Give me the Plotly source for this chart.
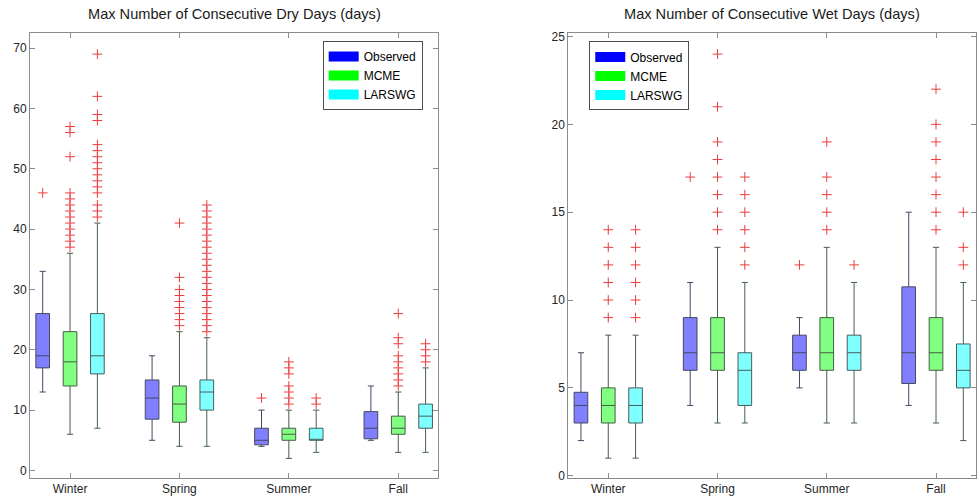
import plotly.graph_objects as go

seasons = ["Winter", "Spring", "Summer", "Fall"]
series_names = ["Observed", "MCME", "LARSWG"]

# ---------------- Dry days (left panel) ----------------
dry_q1 = {
    "Observed": [17, 8.5, 4.25, 5.25],
    "MCME": [14, 8, 5, 6],
    "LARSWG": [16, 10, 5, 7],
}
dry_median = {
    "Observed": [19, 12, 5, 7],
    "MCME": [18, 11, 6, 7],
    "LARSWG": [19, 13, 5, 9],
}
dry_q3 = {
    "Observed": [26, 15, 7, 9.75],
    "MCME": [23, 14, 7, 9],
    "LARSWG": [26, 15, 7, 11],
}
dry_low = {
    "Observed": [13, 5, 4, 5],
    "MCME": [6, 4, 2, 3],
    "LARSWG": [7, 4, 3, 3],
}
dry_high = {
    "Observed": [33, 19, 10, 14],
    "MCME": [36, 23, 10, 13],
    "LARSWG": [41, 22, 10, 17],
}
dry_outliers = {
    "Observed": [[46], [], [12], []],
    "MCME": [
        [37, 38, 39, 40, 41, 42, 43, 44, 45, 46, 52, 56, 57],
        [24, 25, 26, 27, 28, 29, 30, 32, 41],
        [11, 12, 13, 14, 16, 17, 18],
        [14, 15, 16, 17, 18, 19, 21, 22, 26],
    ],
    "LARSWG": [
        [42, 43, 44, 46, 47, 48, 49, 50, 51, 52, 53, 54, 58, 59, 62, 69],
        [23, 24, 25, 26, 27, 28, 29, 30, 31, 32, 33, 34, 35, 36, 37, 38,
         39, 40, 41, 42, 43, 44],
        [11, 12],
        [18, 19, 20, 21],
    ],
}

# ---------------- Wet days (right panel) ----------------
wet_q1 = {
    "Observed": [3, 6, 6, 5.25],
    "MCME": [3, 6, 6, 6],
    "LARSWG": [3, 4, 6, 5],
}
wet_median = {
    "Observed": [4, 7, 7, 7],
    "MCME": [4, 7, 7, 7],
    "LARSWG": [4, 6, 7, 6],
}
wet_q3 = {
    "Observed": [4.75, 9, 8, 10.75],
    "MCME": [5, 9, 9, 9],
    "LARSWG": [5, 7, 8, 7.5],
}
wet_low = {
    "Observed": [2, 4, 5, 4],
    "MCME": [1, 3, 3, 3],
    "LARSWG": [1, 3, 3, 2],
}
wet_high = {
    "Observed": [7, 11, 9, 15],
    "MCME": [8, 13, 13, 13],
    "LARSWG": [8, 11, 11, 11],
}
wet_outliers = {
    "Observed": [[], [17], [12], []],
    "MCME": [
        [9, 10, 11, 12, 13, 14],
        [14, 15, 16, 17, 18, 19, 21, 24],
        [14, 15, 16, 17, 19],
        [14, 15, 16, 17, 18, 19, 20, 22],
    ],
    "LARSWG": [
        [9, 10, 11, 12, 13, 14],
        [12, 13, 14, 15, 16, 17],
        [12],
        [12, 13, 15],
    ],
}

titles = ["Max Number of Consecutive Dry Days (days)",
          "Max Number of Consecutive Wet Days (days)"]

# ---------------- styles ----------------
fill_colors = {"Observed": "#8080ff", "MCME": "#80ff80", "LARSWG": "#80ffff"}
edge_colors = {"Observed": "#464664", "MCME": "#465c46", "LARSWG": "#465e5e"}
legend_colors = {"Observed": "#0000ff", "MCME": "#00ff00", "LARSWG": "#00ffff"}
outlier_red = "#ec3c3c"
font_family = "Liberation Sans, Arial, sans-serif"
axis_gray = "#8c8c8c"
text_dark = "#262626"

fig = go.Figure()

panels = [
    ("x", "y", dry_q1, dry_median, dry_q3, dry_low, dry_high, dry_outliers, "legend"),
    ("x2", "y2", wet_q1, wet_median, wet_q3, wet_low, wet_high, wet_outliers, "legend2"),
]

for xa, ya, q1, med, q3, lo, hi, outl, leg in panels:
    for name in series_names:
        # empty outlier lists are given a single missing value so every box keeps its sample row
        pts = [list(o) if len(o) else [None] for o in outl[name]]
        fig.add_trace(go.Box(
            x=seasons,
            q1=q1[name], median=med[name], q3=q3[name],
            lowerfence=lo[name], upperfence=hi[name],
            y=pts,
            boxpoints="outliers", jitter=0, pointpos=0,
            fillcolor=fill_colors[name],
            line=dict(color=edge_colors[name], width=1),
            whiskerwidth=0.45,
            marker=dict(symbol="cross-thin", size=7, color=outlier_red,
                        line=dict(color=outlier_red, width=1)),
            name=name, showlegend=False, hoverinfo="skip",
            alignmentgroup=xa, offsetgroup=name,
            xaxis=xa, yaxis=ya,
        ))
    for name in series_names:
        fig.add_trace(go.Scatter(
            x=[None], y=[None], mode="lines",
            line=dict(color=legend_colors[name], width=10),
            name=name, showlegend=True, legend=leg,
            xaxis=xa, yaxis=ya,
        ))

axis_common = dict(
    showline=True, linecolor=axis_gray, linewidth=1, mirror="ticks",
    ticks="inside", ticklen=5, tickcolor=axis_gray,
    showgrid=False, zeroline=False, automargin=False,
    tickfont=dict(family=font_family, size=12, color=text_dark),
)

legend_common = dict(
    xanchor="left", yanchor="top",
    bgcolor="white", bordercolor="#4d4d4d", borderwidth=1,
    font=dict(family=font_family, size=12, color="#000000"),
    itemwidth=30, tracegroupgap=0,
)

fig.update_layout(
    width=977, height=500,
    margin=dict(l=30, r=1, t=33, b=22),
    paper_bgcolor="white", plot_bgcolor="white",
    boxmode="group", boxgap=0.25, boxgroupgap=0.5,
    font=dict(family=font_family, size=12, color=text_dark),
    xaxis=dict(domain=[0, 0.4316], type="category", categoryarray=seasons,
               range=[-0.366, 3.366], anchor="y", **axis_common),
    yaxis=dict(domain=[0, 1], range=[-1.25, 72.5], tickvals=[0, 10, 20, 30, 40, 50, 60, 70],
               anchor="x", **axis_common),
    xaxis2=dict(domain=[0.569, 1], type="category", categoryarray=seasons,
                range=[-0.366, 3.366], anchor="y2", **axis_common),
    yaxis2=dict(domain=[0, 1], range=[-0.13, 25.2], tickvals=[0, 5, 10, 15, 20, 25],
                anchor="x2", **axis_common),
    legend=dict(x=0.3094, y=0.982, **legend_common),
    legend2=dict(x=0.5912, y=0.981, **legend_common),
    showlegend=True,
    annotations=[
        dict(text=titles[0], xref="paper", yref="paper", x=0.2158, y=1,
             xanchor="center", yanchor="middle", yshift=19, showarrow=False,
             font=dict(family=font_family, size=14.6, color="#1a1a1a")),
        dict(text=titles[1], xref="paper", yref="paper", x=0.7845, y=1,
             xanchor="center", yanchor="middle", yshift=19, showarrow=False,
             font=dict(family=font_family, size=14.6, color="#1a1a1a")),
    ],
)

fig.write_html("out.html")
